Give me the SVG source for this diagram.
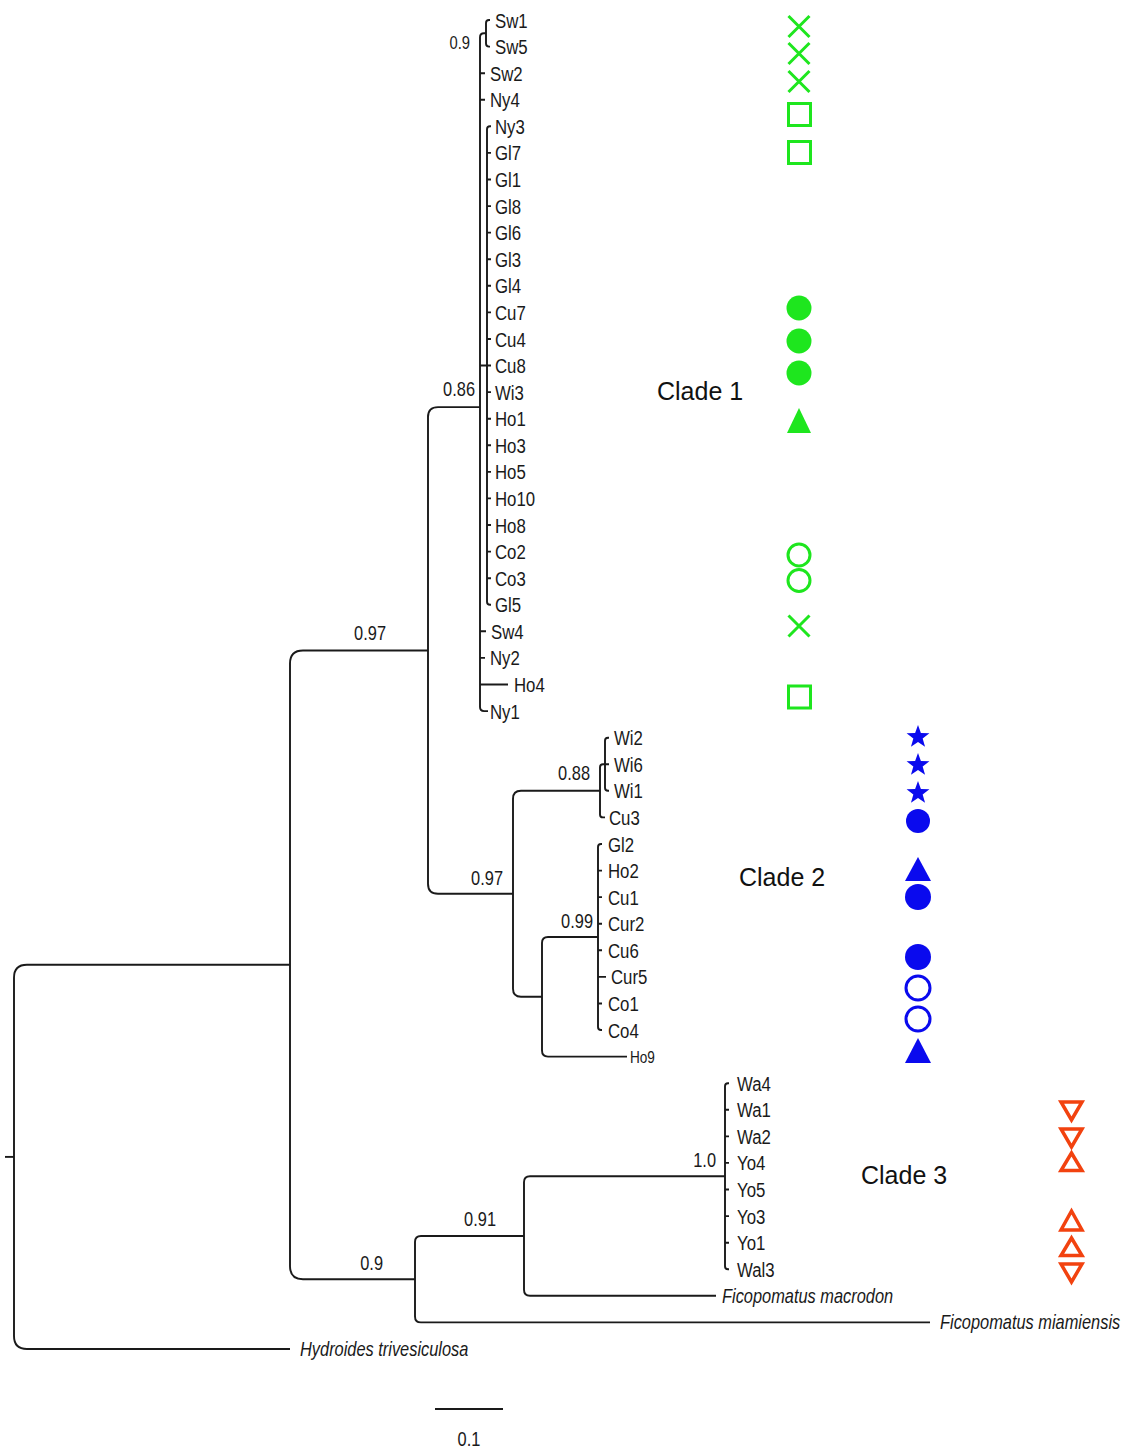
<svg xmlns="http://www.w3.org/2000/svg" xmlns:xlink="http://www.w3.org/1999/xlink" width="1134" height="1449" viewBox="0 0 1134 1449">
<style>
.br{fill:none;stroke:#1a1a1a;stroke-width:1.9}
.t{font-family:"Liberation Sans",Arial,sans-serif;font-size:21px;fill:#1a1a1a}
.s{font-family:"Liberation Sans",Arial,sans-serif;font-size:20px;font-style:italic;fill:#1a1a1a}
.v{font-family:"Liberation Sans",Arial,sans-serif;font-size:20px;fill:#1a1a1a}
.c{font-family:"Liberation Sans",Arial,sans-serif;font-size:25px;fill:#111}
.gs{fill:none;stroke:#1ee61e;stroke-width:3}
.gf{fill:#1ee61e}
.bs{fill:none;stroke:#0a0aee;stroke-width:3}
.bf{fill:#0a0aee}
.rs{fill:none;stroke:#f2420f;stroke-width:3.5;stroke-linejoin:miter}
</style>
<defs>
<path id="star" d="M0,-12 L2.88,-3.96 L11.41,-3.71 L4.66,1.51 L7.05,9.71 L0,4.9 L-7.05,9.71 L-4.66,1.51 L-11.41,-3.71 L-2.88,-3.96 Z"/>
<path id="x" d="M-10.5,-10.5 L10.5,10.5 M-10.5,10.5 L10.5,-10.5"/>
</defs>
<rect width="1134" height="1449" fill="#fff"/>

<g id="connectors">
<path class="br" d="M5,1156.9 H14"/>
<path class="br" d="M290,964.8 H27 Q14,964.8 14,977.8 V1336 Q14,1349 27,1349 H290"/>
<path class="br" d="M428,650.5 H303 Q290,650.5 290,663.5 V1266.2 Q290,1279.2 303,1279.2 H415"/>
<path class="br" d="M480,407.1 H438 Q428,407.1 428,417.1 V883.8 Q428,893.8 438,893.8 H513"/>
<path class="br" d="M486,33.3 H484 Q480,33.3 480,37.3 V707.1 Q480,711.1 484,711.1 H488"/>
<path class="br" d="M480,73.2 H485 M480,99.7 H485 M480,365.5 H487 M480,631.3 H486 M480,657.9 H485 M480,684.5 H508"/>
<path class="br" d="M490,20 H489 Q486,20 486,23 V43.6 Q486,46.6 489,46.6 H490"/>
<path class="br" d="M491,126.3 H490 Q487,126.3 487,129.3 V601.8 Q487,604.8 490,604.8 H491"/>
<path class="br" d="M487,152.9 H491 M487,179.5 H491 M487,206.1 H491 M487,232.6 H491 M487,259.2 H491 M487,285.8 H491 M487,312.4 H491 M487,339 H491 M487,365.5 H491 M487,392.1 H491 M487,418.7 H491 M487,445.3 H491 M487,471.9 H491 M487,498.4 H491 M487,525 H491 M487,551.6 H491 M487,578.2 H491"/>
<path class="br" d="M600,790.8 H521 Q513,790.8 513,798.8 V988.8 Q513,996.8 521,996.8 H542"/>
<path class="br" d="M605,764.2 H603 Q600,764.2 600,767.2 V814.4 Q600,817.4 603,817.4 H605"/>
<path class="br" d="M609,737.7 H608 Q605,737.7 605,740.7 V787.8 Q605,790.8 608,790.8 H609 M605,764.2 H609"/>
<path class="br" d="M598,937 H548 Q542,937 542,943 V1050.6 Q542,1056.6 548,1056.6 H627"/>
<path class="br" d="M602,844 H601 Q598,844 598,847 V1027 Q598,1030 601,1030 H602"/>
<path class="br" d="M598,870.6 H602 M598,897.1 H602 M598,923.7 H602 M598,950.3 H602 M598,976.9 H606 M598,1003.5 H602"/>
<path class="br" d="M524,1236 H421 Q415,1236 415,1242 V1316.4 Q415,1322.4 421,1322.4 H930"/>
<path class="br" d="M725,1176.2 H530 Q524,1176.2 524,1182.2 V1289.8 Q524,1295.8 530,1295.8 H716"/>
<path class="br" d="M729,1083.2 H728 Q725,1083.2 725,1086.2 V1266.3 Q725,1269.3 728,1269.3 H729"/>
<path class="br" d="M725,1109.8 H729 M725,1136.4 H729 M725,1162.9 H729 M725,1189.5 H729 M725,1216.1 H729 M725,1242.7 H729"/>
<path class="br" d="M435,1409 H503"/>
</g>

<g id="tips">
<text id="Sw1" class="t" transform="translate(495 27.5) scale(0.8 1)">Sw1</text>
<text id="Sw5" class="t" transform="translate(495 54.1) scale(0.8 1)">Sw5</text>
<text id="Sw2" class="t" transform="translate(490 80.7) scale(0.8 1)">Sw2</text>
<text id="Ny4" class="t" transform="translate(490 107.2) scale(0.8 1)">Ny4</text>
<text id="Ny3" class="t" transform="translate(495 133.8) scale(0.8 1)">Ny3</text>
<text id="Gl7" class="t" transform="translate(495 160.4) scale(0.8 1)">Gl7</text>
<text id="Gl1" class="t" transform="translate(495 187) scale(0.8 1)">Gl1</text>
<text id="Gl8" class="t" transform="translate(495 213.6) scale(0.8 1)">Gl8</text>
<text id="Gl6" class="t" transform="translate(495 240.1) scale(0.8 1)">Gl6</text>
<text id="Gl3" class="t" transform="translate(495 266.7) scale(0.8 1)">Gl3</text>
<text id="Gl4" class="t" transform="translate(495 293.3) scale(0.8 1)">Gl4</text>
<text id="Cu7" class="t" transform="translate(495 319.9) scale(0.8 1)">Cu7</text>
<text id="Cu4" class="t" transform="translate(495 346.5) scale(0.8 1)">Cu4</text>
<text id="Cu8" class="t" transform="translate(495 373) scale(0.8 1)">Cu8</text>
<text id="Wi3" class="t" transform="translate(495 399.6) scale(0.8 1)">Wi3</text>
<text id="Ho1" class="t" transform="translate(495 426.2) scale(0.8 1)">Ho1</text>
<text id="Ho3" class="t" transform="translate(495 452.8) scale(0.8 1)">Ho3</text>
<text id="Ho5" class="t" transform="translate(495 479.4) scale(0.8 1)">Ho5</text>
<text id="Ho10" class="t" transform="translate(495 505.9) scale(0.8 1)">Ho10</text>
<text id="Ho8" class="t" transform="translate(495 532.5) scale(0.8 1)">Ho8</text>
<text id="Co2" class="t" transform="translate(495 559.1) scale(0.8 1)">Co2</text>
<text id="Co3" class="t" transform="translate(495 585.7) scale(0.8 1)">Co3</text>
<text id="Gl5" class="t" transform="translate(495 612.3) scale(0.8 1)">Gl5</text>
<text id="Sw4" class="t" transform="translate(491 638.8) scale(0.8 1)">Sw4</text>
<text id="Ny2" class="t" transform="translate(490 665.4) scale(0.8 1)">Ny2</text>
<text id="Ho4" class="t" transform="translate(514 692) scale(0.8 1)">Ho4</text>
<text id="Ny1" class="t" transform="translate(490 718.6) scale(0.8 1)">Ny1</text>
<text id="Wi2" class="t" transform="translate(614 745.2) scale(0.8 1)">Wi2</text>
<text id="Wi6" class="t" transform="translate(614 771.7) scale(0.8 1)">Wi6</text>
<text id="Wi1" class="t" transform="translate(614 798.3) scale(0.8 1)">Wi1</text>
<text id="Cu3" class="t" transform="translate(609 824.9) scale(0.8 1)">Cu3</text>
<text id="Gl2" class="t" transform="translate(608 851.5) scale(0.8 1)">Gl2</text>
<text id="Ho2" class="t" transform="translate(608 878.1) scale(0.8 1)">Ho2</text>
<text id="Cu1" class="t" transform="translate(608 904.6) scale(0.8 1)">Cu1</text>
<text id="Cur2" class="t" transform="translate(608 931.2) scale(0.8 1)">Cur2</text>
<text id="Cu6" class="t" transform="translate(608 957.8) scale(0.8 1)">Cu6</text>
<text id="Cur5" class="t" transform="translate(611 984.4) scale(0.8 1)">Cur5</text>
<text id="Co1" class="t" transform="translate(608 1011) scale(0.8 1)">Co1</text>
<text id="Co4" class="t" transform="translate(608 1037.5) scale(0.8 1)">Co4</text>
<text id="Ho9" class="t" transform="translate(630 1062.6) scale(0.8 1)" style="font-size:17px">Ho9</text>
<text id="Wa4" class="t" transform="translate(737 1090.7) scale(0.8 1)">Wa4</text>
<text id="Wa1" class="t" transform="translate(737 1117.3) scale(0.8 1)">Wa1</text>
<text id="Wa2" class="t" transform="translate(737 1143.9) scale(0.8 1)">Wa2</text>
<text id="Yo4" class="t" transform="translate(737 1170.4) scale(0.8 1)">Yo4</text>
<text id="Yo5" class="t" transform="translate(737 1197) scale(0.8 1)">Yo5</text>
<text id="Yo3" class="t" transform="translate(737 1223.6) scale(0.8 1)">Yo3</text>
<text id="Yo1" class="t" transform="translate(737 1250.2) scale(0.8 1)">Yo1</text>
<text id="Wal3" class="t" transform="translate(737 1276.8) scale(0.8 1)">Wal3</text>
<text id="Fmacrodon" class="s" transform="translate(722 1302.8) scale(0.82 1)">Ficopomatus macrodon</text>
<text id="Fmiamiensis" class="s" transform="translate(940 1329.4) scale(0.82 1)">Ficopomatus miamiensis</text>
<text id="Hydroides" class="s" transform="translate(300 1356) scale(0.82 1)">Hydroides trivesiculosa</text>
</g>

<g id="support">
<text class="v" transform="translate(470 49) scale(0.82 1)" text-anchor="end" style="font-size:18px">0.9</text>
<text class="v" transform="translate(475 396) scale(0.82 1)" text-anchor="end">0.86</text>
<text class="v" transform="translate(386 640) scale(0.82 1)" text-anchor="end">0.97</text>
<text class="v" transform="translate(503 885) scale(0.82 1)" text-anchor="end">0.97</text>
<text class="v" transform="translate(590 780) scale(0.82 1)" text-anchor="end">0.88</text>
<text class="v" transform="translate(593 928) scale(0.82 1)" text-anchor="end">0.99</text>
<text class="v" transform="translate(716 1167) scale(0.82 1)" text-anchor="end">1.0</text>
<text class="v" transform="translate(496 1226) scale(0.82 1)" text-anchor="end">0.91</text>
<text class="v" transform="translate(383 1270) scale(0.82 1)" text-anchor="end">0.9</text>
<text id="scale" class="v" transform="translate(469 1446) scale(0.82 1)" text-anchor="middle">0.1</text>
</g>

<g id="clades">
<text id="clade1" class="c" x="657" y="400">Clade 1</text>
<text id="clade2" class="c" x="739" y="886">Clade 2</text>
<text id="clade3" class="c" x="861" y="1184">Clade 3</text>
</g>

<g id="symbols-green">
<use href="#x" class="gs" x="799" y="26.5"/>
<use href="#x" class="gs" x="799" y="53.5"/>
<use href="#x" class="gs" x="799" y="81.5"/>
<rect class="gs" x="788.5" y="103.5" width="22" height="22"/>
<rect class="gs" x="788.5" y="141.5" width="22" height="22"/>
<circle class="gf" cx="799" cy="308" r="12.5"/>
<circle class="gf" cx="799" cy="341" r="12.5"/>
<circle class="gf" cx="799" cy="373" r="12.5"/>
<polygon class="gf" points="799,408 811,433 787,433"/>
<circle class="gs" cx="799" cy="555" r="11"/>
<circle class="gs" cx="799" cy="580.5" r="11"/>
<use href="#x" class="gs" x="799" y="626"/>
<rect class="gs" x="788.5" y="686" width="22" height="22"/>
</g>

<g id="symbols-blue">
<use href="#star" class="bf" x="918" y="737"/>
<use href="#star" class="bf" x="918" y="765"/>
<use href="#star" class="bf" x="918" y="793"/>
<circle class="bf" cx="918" cy="821" r="12"/>
<polygon class="bf" points="918,857 931,881 905,881"/>
<circle class="bf" cx="918" cy="897" r="13"/>
<circle class="bf" cx="918" cy="957" r="13"/>
<circle class="bs" cx="918" cy="988" r="12"/>
<circle class="bs" cx="918" cy="1019" r="12"/>
<polygon class="bf" points="918,1038 931,1063 905,1063"/>
</g>

<g id="symbols-red">
<polygon class="rs" points="1061,1102 1082,1102 1071.5,1120"/>
<polygon class="rs" points="1061,1129 1082,1129 1071.5,1147"/>
<polygon class="rs" points="1071.5,1153 1082,1170.5 1061,1170.5"/>
<polygon class="rs" points="1071.5,1211 1082,1230 1061,1230"/>
<polygon class="rs" points="1071.5,1238 1082,1255.5 1061,1255.5"/>
<polygon class="rs" points="1061,1264 1082,1264 1071.5,1282"/>
</g>
</svg>
